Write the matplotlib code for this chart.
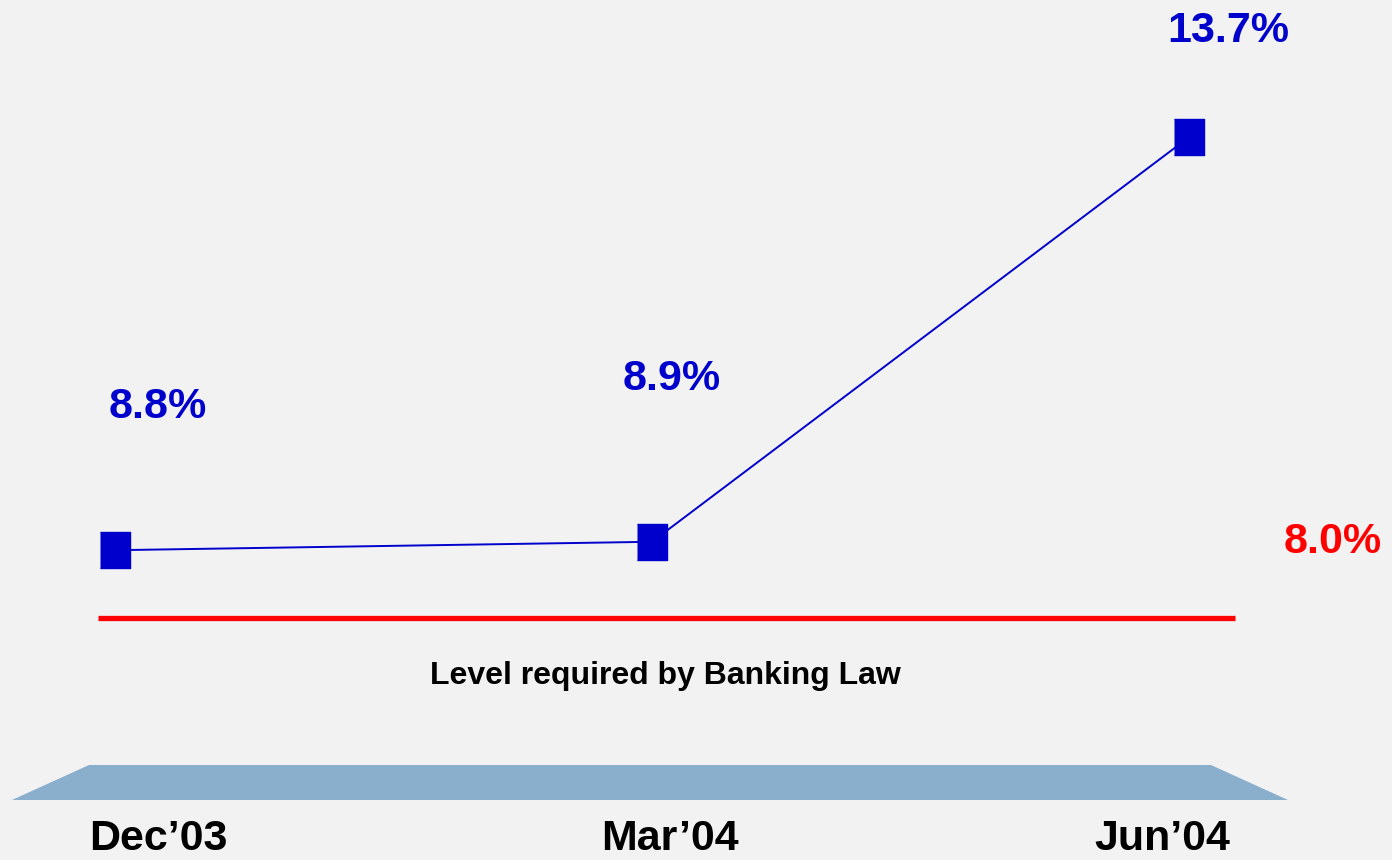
import matplotlib.pyplot as plt
from matplotlib.patches import Polygon

periods = ["Dec\u201903", "Mar\u201904", "Jun\u201904"]
ratio = [8.8, 8.9, 13.7]
required = 8.0
required_label = "Level required by Banking Law"

plt.rcParams['font.family'] = ['Liberation Sans', 'DejaVu Sans']

fig = plt.figure(figsize=(13.92, 8.6), dpi=100, facecolor='#f2f2f2')
ax = fig.add_axes([0, 0, 1, 1])
ax.set_facecolor('#f2f2f2')
ax.set_xlim(-0.2142, 2.378)
ax.set_ylim(5.125, 15.327)
ax.axis('off')

x = range(len(periods))
rect = [(-15, -18.5), (15, -18.5), (15, 18.5), (-15, 18.5)]
ax.plot(x, ratio, color='#0000cc', lw=1.4, marker=rect, markersize=26.6,
        markerfacecolor='#0000cc', markeredgecolor='#0000cc', zorder=3)

# value labels, offsets in pixels
offsets = [(43, 143), (20, 163), (39, 106)]
for i, v in enumerate(ratio):
    ax.annotate(f"{v:.1f}%", (i, v), xytext=offsets[i], textcoords='offset pixels',
                ha='center', va='center', fontsize=31, fontweight='bold', color='#0000cc')

# required level
ax.hlines(required, -0.032, 2.086, color='#ff0000', lw=3.8)
ax.annotate(f"{required:.1f}%", (2.268, required), xytext=(0, 76), textcoords='offset pixels',
            ha='center', va='center', fontsize=31, fontweight='bold', color='#ff0000')
ax.annotate(required_label, (1.0, required), xytext=(13, -58), textcoords='offset pixels',
            ha='center', va='center', fontsize=23, fontweight='bold', color='black')

# timeline band
ax.add_patch(Polygon([(12 / 1392, 60 / 860), (89 / 1392, 95 / 860), (1211 / 1392, 95 / 860),
                      (1288 / 1392, 60 / 860)], closed=True, transform=ax.transAxes,
                     facecolor='#8aafcd', edgecolor='none'))

label_dx = [0.08, 0.034, -0.05]
for i, p in enumerate(periods):
    ax.text(i + label_dx[i], 21 / 860, p, transform=ax.get_xaxis_transform(),
            ha='center', va='center', fontsize=31, fontweight='bold', color='black')

fig.savefig('out.png', dpi=100, facecolor=fig.get_facecolor())
